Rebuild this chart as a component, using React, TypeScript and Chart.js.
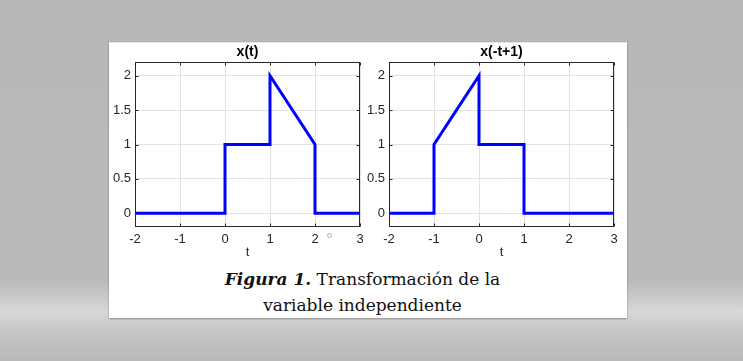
import React, { useEffect, useRef } from "react";
import { Chart, registerables } from "chart.js";

Chart.register(...registerables);

// ---- data ----
const tOriginal = [-2, 0, 0, 1, 1, 2, 2, 3];
const xOriginal = [0, 0, 1, 1, 2, 1, 0, 0];
const tTransformed = [-2, -1, -1, 0, 0, 1, 1, 3];
const xTransformed = [0, 0, 1, 2, 1, 1, 0, 0];
const xTickValues = [-2, -1, 0, 1, 2, 3];
const yTickValues = [0, 0.5, 1, 1.5, 2];
const plotTitles = ["x(t)", "x(-t+1)"];
const xAxisLabel = "t";
const captionBold = "Figura 1.";
const captionLine1 = " Transformación de la";
const captionLine2 = "variable independiente";

const AXIS_FONT = { family: "'Liberation Sans', Arial, sans-serif", size: 13 };
const AXIS_COLOR = "#262626";

const boxPlugin = {
  id: "matlabBox",
  afterDraw(chart: any, _args: any, opts: any) {
    const { ctx, chartArea: a, scales } = chart;
    ctx.save();
    const L = Math.round(a.left) + 0.5;
    const R = Math.round(a.right) - 0.5;
    const T = Math.round(a.top) + 0.5;
    const B = Math.round(a.bottom) - 0.5;
    ctx.strokeStyle = AXIS_COLOR;
    ctx.lineWidth = 1;
    ctx.strokeRect(L, T, R - L, B - T);
    const tl = 3;
    ctx.beginPath();
    scales.x.ticks.forEach((tk: any) => {
      const px = Math.round(scales.x.getPixelForValue(tk.value)) + 0.5;
      ctx.moveTo(px, B);
      ctx.lineTo(px, B - tl);
      ctx.moveTo(px, T);
      ctx.lineTo(px, T + tl);
    });
    scales.y.ticks.forEach((tk: any) => {
      const py = Math.round(scales.y.getPixelForValue(tk.value)) + 0.5;
      ctx.moveTo(L, py);
      ctx.lineTo(L + tl, py);
      ctx.moveTo(R, py);
      ctx.lineTo(R - tl, py);
    });
    ctx.stroke();
    ctx.fillStyle = "#000";
    ctx.font = "bold 14px 'Liberation Sans', Arial, sans-serif";
    ctx.textAlign = "center";
    ctx.textBaseline = "middle";
    ctx.fillText(opts.title, (a.left + a.right) / 2, a.top - 10);
    ctx.restore();
  },
};

type PlotProps = {
  t: number[];
  x: number[];
  title: string;
  left: number;
  width: number;
  yAxisWidth: number;
  padRight: number;
};

function Plot({ t, x, title, left, width, yAxisWidth, padRight }: PlotProps) {
  const ref = useRef<HTMLCanvasElement>(null);
  useEffect(() => {
    if (!ref.current) return;
    const chart = new Chart(ref.current, {
      type: "scatter",
      data: {
        datasets: [
          {
            data: t.map((tv, i) => ({ x: tv, y: x[i] })),
            showLine: true,
            borderColor: "#0000ff",
            backgroundColor: "#0000ff",
            borderWidth: 3,
            pointRadius: 0,
            tension: 0,
            borderJoinStyle: "miter",
          } as any,
        ],
      },
      options: {
        animation: false,
        responsive: false,
        maintainAspectRatio: false,
        layout: { padding: { top: 20, right: padRight, left: 0, bottom: 0 } },
        plugins: {
          legend: { display: false },
          tooltip: { enabled: false },
          title: { display: false },
          matlabBox: { title },
        } as any,
        scales: {
          x: {
            type: "linear",
            min: -2,
            max: 3,
            afterBuildTicks: (ax: any) => {
              ax.ticks = xTickValues.map((v) => ({ value: v }));
            },
            afterFit: (ax: any) => {
              ax.height = 35;
            },
            grid: { color: "#e2e2e2", drawTicks: false },
            border: { display: false },
            ticks: {
              color: AXIS_COLOR,
              font: AXIS_FONT,
              padding: 5,
              maxRotation: 0,
              autoSkip: false,
              callback: (v: any) => String(v),
            },
            title: {
              display: true,
              text: xAxisLabel,
              color: AXIS_COLOR,
              font: AXIS_FONT,
              padding: { top: 0, bottom: 2 },
            },
          },
          y: {
            type: "linear",
            min: -0.2,
            max: 2.2,
            afterBuildTicks: (ax: any) => {
              ax.ticks = yTickValues.map((v) => ({ value: v }));
            },
            afterFit: (ax: any) => {
              ax.width = yAxisWidth;
            },
            grid: { color: "#e2e2e2", drawTicks: false },
            border: { display: false },
            ticks: {
              color: AXIS_COLOR,
              font: AXIS_FONT,
              padding: 4,
              autoSkip: false,
              callback: (v: any) => String(v),
            },
          },
        },
      } as any,
      plugins: [boxPlugin as any],
    });
    return () => chart.destroy();
  }, []);
  return (
    <canvas
      ref={ref}
      width={width}
      height={220}
      style={{ position: "absolute", left, top: 42, width, height: 220 }}
    />
  );
}

export default function App() {
  return (
    <div
      style={{
        position: "absolute",
        left: 0,
        top: 0,
        width: 743,
        height: 361,
        overflow: "hidden",
        background:
          "linear-gradient(to bottom, #b7b8b7 0px, #b8b9b8 280px, #d7d8d7 312px, #c6c7c6 330px, #b7b8b7 361px)",
      }}
    >
      <div
        style={{
          position: "absolute",
          left: 109,
          top: 42,
          width: 518,
          height: 275,
          background: "#ffffff",
          borderTop: "1px solid #e6e6e6",
          boxShadow: "0 1px 2px rgba(0,0,0,0.35)",
        }}
      />
      <Plot
        t={tOriginal}
        x={xOriginal}
        title={plotTitles[0]}
        left={110}
        width={262}
        yAxisWidth={25}
        padRight={12}
      />
      <Plot
        t={tTransformed}
        x={xTransformed}
        title={plotTitles[1]}
        left={363}
        width={262}
        yAxisWidth={26}
        padRight={11}
      />
      <div
        style={{
          position: "absolute",
          left: 327,
          top: 233,
          width: 3,
          height: 3,
          border: "1px solid #a9b0c8",
          borderRadius: "50%",
        }}
      />
      <div
        style={{
          position: "absolute",
          left: 109,
          top: 266,
          width: 507,
          textAlign: "center",
          fontFamily: "'DejaVu Serif', serif",
          fontSize: 17,
          lineHeight: "26px",
          color: "#111",
          whiteSpace: "nowrap",
        }}
      >
        <div>
          <b>
            <i>{captionBold}</i>
          </b>
          {captionLine1}
        </div>
        <div>{captionLine2}</div>
      </div>
    </div>
  );
}
